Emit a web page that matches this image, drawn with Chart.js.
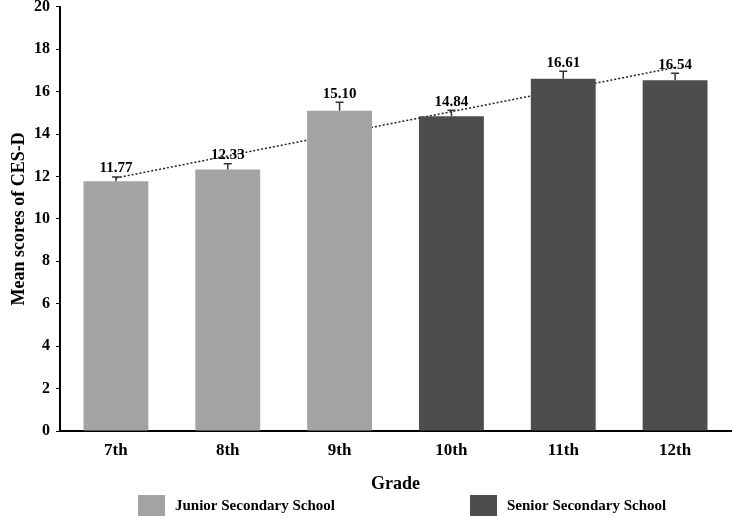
<!DOCTYPE html>
<html>
<head>
<meta charset="utf-8">
<script src="https://cdn.jsdelivr.net/npm/chart.js@4.4.0/dist/chart.umd.min.js"></script>
<style>
  body { margin: 0; background: #fff; }
  #wrap { width: 735px; height: 518px; }
</style>
</head>
<body>
<div id="wrap"><canvas id="chart"></canvas></div>
<script>
// values
const grades = ['7th', '8th', '9th', '10th', '11th', '12th'];
const meanScores = [11.77, 12.33, 15.10, 14.84, 16.61, 16.54];
const errors = [0.2, 0.27, 0.4, 0.28, 0.35, 0.33];
const schoolGroup = ['Junior', 'Junior', 'Junior', 'Senior', 'Senior', 'Senior'];
const trend = [11.93, null, null, null, null, 17.14];
const yTicks = [0, 2, 4, 6, 8, 10, 12, 14, 16, 18, 20];

const colors = { Junior: '#a3a3a3', Senior: '#4d4d4d' };
const legendItems = [
  { text: 'Junior Secondary School', color: colors.Junior, x: 138 },
  { text: 'Senior Secondary School', color: colors.Senior, x: 470 }
];
const serif = '"Liberation Serif", "Times New Roman", serif';

// error bars + value labels on top of the bars, legend at the bottom
const barExtras = {
  id: 'barExtras',
  afterDatasetsDraw(chart) {
    const ctx = chart.ctx;
    const y = chart.scales.y;
    const meta = chart.getDatasetMeta(0);
    ctx.save();
    meta.data.forEach((bar, i) => {
      const top = y.getPixelForValue(meanScores[i]);
      const cap = y.getPixelForValue(meanScores[i] + errors[i]);
      ctx.strokeStyle = '#333';
      ctx.lineWidth = 1.5;
      ctx.beginPath();
      ctx.moveTo(bar.x, top);
      ctx.lineTo(bar.x, cap);
      ctx.moveTo(bar.x - 4, cap);
      ctx.lineTo(bar.x + 4, cap);
      ctx.stroke();

      ctx.fillStyle = '#000';
      ctx.font = 'bold 15px ' + serif;
      ctx.textAlign = 'center';
      ctx.textBaseline = 'bottom';
      ctx.fillText(meanScores[i].toFixed(2), bar.x, cap - 1);
    });
    ctx.restore();
  },
  afterDraw(chart) {
    const ctx = chart.ctx;
    ctx.save();
    ctx.font = 'bold 15px ' + serif;
    ctx.textBaseline = 'middle';
    ctx.textAlign = 'left';
    legendItems.forEach(item => {
      ctx.fillStyle = item.color;
      ctx.fillRect(item.x, 495, 27, 21);
      ctx.fillStyle = '#000';
      ctx.fillText(item.text, item.x + 37, 506);
    });
    ctx.restore();
  }
};

new Chart(document.querySelector('#chart'), {
  type: 'bar',
  data: {
    labels: grades,
    datasets: [
      {
        type: 'bar',
        data: meanScores,
        backgroundColor: schoolGroup.map(g => colors[g]),
        categoryPercentage: 0.58,
        barPercentage: 1,
        order: 1
      },
      {
        type: 'line',
        data: trend,
        spanGaps: true,
        borderColor: '#222',
        borderWidth: 1.5,
        borderDash: [2, 2],
        pointRadius: 0,
        fill: false,
        order: 2
      }
    ]
  },
  plugins: [barExtras],
  options: {
    responsive: true,
    maintainAspectRatio: false,
    animation: false,
    layout: { padding: { top: 0, right: 4, bottom: 23, left: 0 } },
    plugins: {
      legend: { display: false },
      tooltip: { enabled: false }
    },
    scales: {
      x: {
        grid: { display: false, drawTicks: false },
        border: { color: '#000', width: 2 },
        ticks: { color: '#000', font: { family: serif, size: 17, weight: 'bold' }, padding: 9 },
        title: { display: true, text: 'Grade', color: '#000', font: { family: serif, size: 18, weight: 'bold' }, padding: { top: 4, bottom: 0 } }
      },
      y: {
        min: 0,
        max: 20,
        afterBuildTicks: axis => { axis.ticks = yTicks.map(v => ({ value: v })); },
        grid: { drawOnChartArea: false, drawTicks: true, tickLength: 4, color: '#000' },
        border: { color: '#000', width: 2 },
        ticks: { color: '#000', font: { family: serif, size: 16, weight: 'bold', lineHeight: 0.1 }, padding: 6 },
        title: { display: true, text: 'Mean scores of CES-D', color: '#000', font: { family: serif, size: 18, weight: 'bold', lineHeight: 1 }, padding: { top: 10, bottom: 0 } }
      }
    }
  }
});
</script>
</body>
</html>
